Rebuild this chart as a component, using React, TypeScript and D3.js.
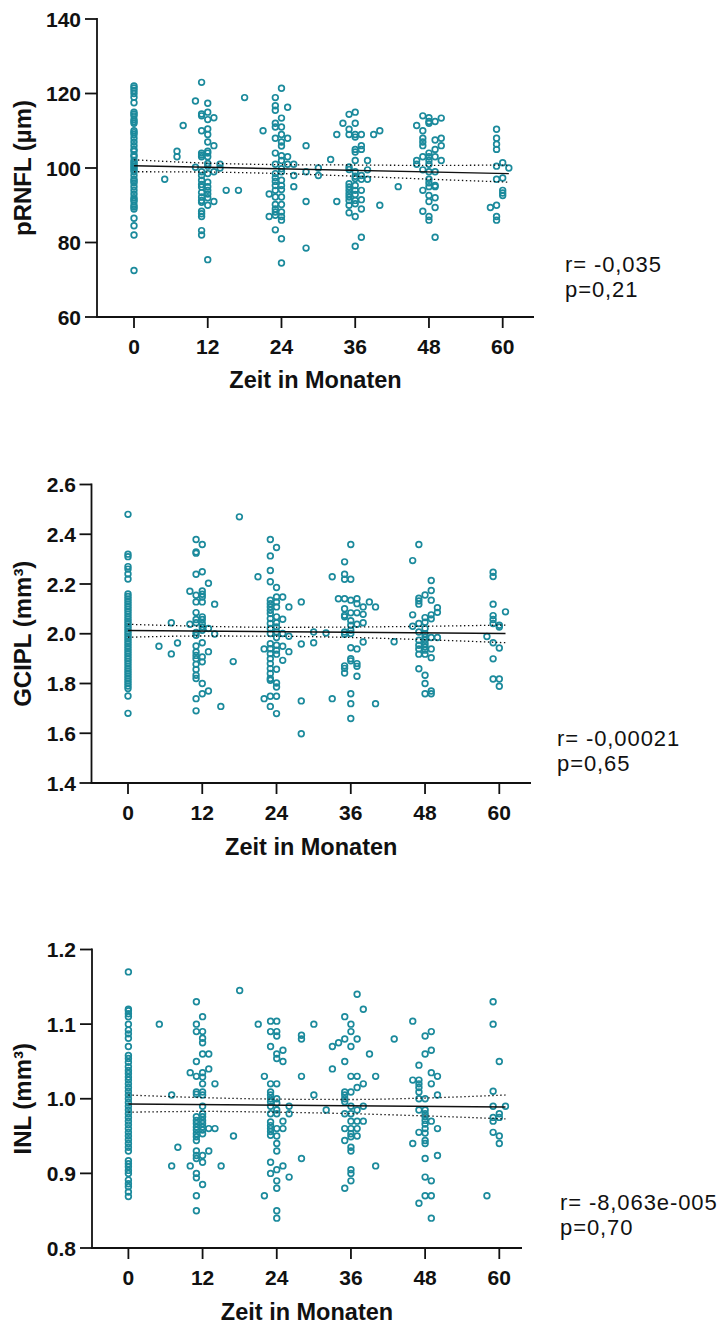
import React from "react";
import * as d3 from "d3";

// [month, values observed at that month]
type Group = [number, number[]];

const MONTH_TICKS = [0, 12, 24, 36, 48, 60];
const PRNFL_TICKS = [60, 80, 100, 120, 140];
const GCIPL_TICKS = [1.4, 1.6, 1.8, 2.0, 2.2, 2.4, 2.6];
const INL_TICKS = [0.8, 0.9, 1.0, 1.1, 1.2];

const pRNFLGroups: Group[] = [
  [0, [122, 121.5, 120.8, 120, 119, 117.5, 115, 114.5, 114, 113, 112.5, 112, 110, 109.5, 109, 108, 107, 106, 105, 104.5, 103.5, 103, 102, 101.5, 101, 100.5, 100, 99.5, 99, 98, 97, 96.5, 96, 95, 94, 93, 92, 91.5, 91, 90, 89.5, 89, 86.5, 84.5, 82, 72.5]],
  [5, [97]],
  [7, [104.5, 103]],
  [8, [111.4]],
  [10, [100.2, 118]],
  [11, [123, 114.5, 114, 110, 104, 103.5, 103, 99, 98, 96.7, 95.6, 94.9, 93.4, 92.2, 91.3, 90.8, 88.4, 87.7, 87, 83.2, 82]],
  [12, [117.4, 115, 113, 110.5, 109, 107, 104.5, 104, 103, 101.2, 100.5, 98.5, 96.2, 95, 94, 93, 92, 90, 75.4]],
  [13, [113.5, 106, 99, 91]],
  [14, [101, 100]],
  [15, [94]],
  [17, [94]],
  [18, [118.9]],
  [21, [110]],
  [22, [93, 87]],
  [23, [118.9, 116.7, 115.5, 112, 111, 108, 104, 101, 98.5, 97.4, 96.4, 95.3, 94, 92.2, 90.2, 89, 88.2, 87.3, 83.4]],
  [24, [121.4, 113.4, 111, 109, 107, 105.9, 103.3, 102, 99.8, 99, 96.7, 95.3, 94.2, 92.2, 90.2, 88.2, 87, 86, 81, 74.5]],
  [25, [116.3, 108, 103, 101]],
  [26, [101, 98, 95]],
  [28, [106, 99, 91, 78.5]],
  [30, [100, 98]],
  [32, [102.3]],
  [33, [109, 91]],
  [34, [112]],
  [35, [114.4, 110.4, 109, 100.3, 99.6, 95.8, 94.9, 94, 93.1, 92.2, 91.3, 90, 88]],
  [36, [115, 112, 109, 108.3, 105, 104.3, 102, 99, 97.8, 97.2, 95.3, 94, 92.9, 91.3, 90.4, 87, 79]],
  [37, [109, 106, 105, 98, 97, 94, 91.5, 89, 81.4]],
  [38, [102, 99.5, 97]],
  [39, [109]],
  [40, [110, 90]],
  [43, [95]],
  [46, [111.4, 102, 101]],
  [47, [114, 110, 108, 107, 106, 103, 99.5, 94, 88.4]],
  [48, [113.5, 112.5, 112, 104, 103, 102, 101, 99, 97, 96, 95, 92.6, 91, 87, 86]],
  [49, [112.5, 107.5, 105, 103, 99, 95.3, 95, 92, 89.4, 81.4]],
  [50, [113.4, 108, 106, 102]],
  [58, [89.4]],
  [59, [110.4, 108, 106.4, 105, 100.5, 97, 90, 87, 86]],
  [60, [101.4, 97.3, 94, 93.3, 92.6]],
  [61, [100]],
];

const gciplGroups: Group[] = [
  [0, [2.48, 2.32, 2.31, 2.27, 2.26, 2.24, 2.22, 2.16, 2.15, 2.14, 2.13, 2.12, 2.11, 2.1, 2.09, 2.08, 2.07, 2.06, 2.05, 2.04, 2.03, 2.02, 2.01, 2.0, 1.99, 1.98, 1.97, 1.96, 1.95, 1.94, 1.93, 1.92, 1.91, 1.9, 1.89, 1.88, 1.87, 1.86, 1.85, 1.84, 1.83, 1.82, 1.81, 1.8, 1.79, 1.78, 1.75, 1.68]],
  [5, [1.95]],
  [7, [2.044, 1.919]],
  [8, [1.963]],
  [10, [2.171, 2.038]],
  [11, [2.379, 2.329, 2.324, 2.239, 2.155, 2.128, 2.085, 2.057, 2.044, 2.005, 1.994, 1.951, 1.927, 1.913, 1.9, 1.877, 1.856, 1.833, 1.82, 1.739, 1.69]],
  [12, [2.359, 2.249, 2.172, 2.159, 2.148, 2.128, 2.068, 2.057, 2.041, 2.027, 2.014, 1.964, 1.907, 1.887, 1.8, 1.759]],
  [13, [2.203, 2.021, 1.928, 1.77]],
  [14, [2.119, 1.999]],
  [15, [1.708]],
  [17, [1.888]],
  [18, [2.47]],
  [21, [2.229]],
  [22, [1.939, 1.739]],
  [23, [2.379, 2.313, 2.254, 2.209, 2.135, 2.121, 2.108, 2.094, 2.081, 2.061, 2.041, 2.021, 2.001, 1.96, 1.94, 1.92, 1.9, 1.88, 1.86, 1.84, 1.82, 1.813, 1.749, 1.708]],
  [24, [2.347, 2.186, 2.148, 2.128, 2.108, 2.068, 2.044, 2.027, 2.007, 1.985, 1.954, 1.934, 1.918, 1.857, 1.802, 1.786, 1.749, 1.679]],
  [25, [2.148, 2.058, 2.001, 1.95, 1.893]],
  [26, [2.108, 1.99, 1.928]],
  [28, [2.128, 1.959, 1.73, 1.598]],
  [30, [2.007, 1.964]],
  [32, [2.003]],
  [33, [2.229, 1.739]],
  [34, [2.141]],
  [35, [2.289, 2.239, 2.219, 2.141, 2.101, 2.074, 2.068, 2.007, 1.998, 1.871, 1.861, 1.842]],
  [36, [2.359, 2.219, 2.135, 2.084, 2.052, 2.034, 2.014, 2.001, 1.944, 1.9, 1.891, 1.759, 1.719, 1.659]],
  [37, [2.141, 2.121, 2.084, 2.038, 1.939, 1.88, 1.869, 1.829]],
  [38, [2.108, 2.078, 2.044, 1.967]],
  [39, [2.128]],
  [40, [2.108, 1.719]],
  [43, [1.968]],
  [46, [2.294, 2.076, 2.03]],
  [47, [2.359, 2.143, 2.132, 2.119, 2.041, 2.007, 1.974, 1.954, 1.939, 1.918, 1.859]],
  [48, [2.156, 2.065, 2.046, 2.021, 2.0, 1.987, 1.974, 1.96, 1.947, 1.934, 1.918, 1.833, 1.8, 1.759]],
  [49, [2.214, 2.174, 2.135, 2.076, 2.06, 1.985, 1.939, 1.904, 1.77, 1.759]],
  [50, [2.105, 2.086, 1.985]],
  [58, [1.989]],
  [59, [2.247, 2.23, 2.119, 2.073, 2.057, 2.041, 1.964, 1.899, 1.818]],
  [60, [2.034, 2.027, 1.943, 1.818, 1.789]],
  [61, [2.088]],
];

const inlGroups: Group[] = [
  [0, [1.17, 1.12, 1.118, 1.114, 1.11, 1.1, 1.092, 1.087, 1.081, 1.07, 1.058, 1.054, 1.049, 1.043, 1.038, 1.034, 1.029, 1.025, 1.02, 1.015, 1.01, 1.005, 1.0, 0.995, 0.99, 0.985, 0.98, 0.975, 0.97, 0.965, 0.96, 0.955, 0.95, 0.945, 0.94, 0.935, 0.93, 0.917, 0.913, 0.909, 0.904, 0.9, 0.891, 0.886, 0.882, 0.875, 0.869]],
  [5, [1.1]],
  [7, [1.005, 0.91]],
  [8, [0.935]],
  [10, [0.91, 1.035]],
  [11, [1.13, 1.1, 1.09, 1.05, 1.03, 1.009, 1.006, 0.976, 0.971, 0.967, 0.962, 0.958, 0.953, 0.949, 0.944, 0.93, 0.924, 0.92, 0.9, 0.894, 0.87, 0.85]],
  [12, [1.11, 1.09, 1.081, 1.075, 1.06, 1.035, 1.029, 1.02, 1.009, 1.005, 0.99, 0.98, 0.976, 0.971, 0.967, 0.962, 0.958, 0.953, 0.924, 0.915, 0.885]],
  [13, [1.06, 1.04, 0.96, 0.93]],
  [14, [1.02, 0.96]],
  [15, [0.91]],
  [17, [0.95]],
  [18, [1.145]],
  [21, [1.1]],
  [22, [1.03, 0.87]],
  [23, [1.104, 1.09, 1.07, 1.02, 1.009, 1.005, 1.0, 0.996, 0.99, 0.98, 0.969, 0.964, 0.96, 0.956, 0.951, 0.915, 0.9]],
  [24, [1.104, 1.09, 1.084, 1.06, 1.054, 1.02, 1.0, 0.994, 0.985, 0.98, 0.96, 0.95, 0.94, 0.93, 0.905, 0.89, 0.88, 0.85, 0.84]],
  [25, [1.065, 1.05, 0.97, 0.96, 0.91]],
  [26, [0.99, 0.98, 0.895]],
  [28, [1.085, 1.08, 1.03, 0.92]],
  [30, [1.1, 1.005]],
  [32, [0.985]],
  [33, [1.07, 1.04]],
  [34, [1.075]],
  [35, [1.11, 1.08, 1.05, 1.009, 1.005, 1.0, 0.996, 0.98, 0.96, 0.944, 0.88]],
  [36, [1.1, 1.09, 1.07, 1.03, 1.009, 0.99, 0.98, 0.97, 0.96, 0.953, 0.949, 0.935, 0.93, 0.905, 0.9, 0.89]],
  [37, [1.14, 1.08, 1.03, 1.015, 0.985, 0.97, 0.96, 0.95]],
  [38, [1.12, 1.02, 0.99, 0.97]],
  [39, [1.06]],
  [40, [1.03, 0.91]],
  [43, [1.08]],
  [46, [1.104, 1.025, 0.94]],
  [47, [1.045, 1.025, 1.02, 1.015, 1.009, 1.0, 0.985, 0.955, 0.86]],
  [48, [1.084, 1.06, 1.0, 0.985, 0.98, 0.976, 0.971, 0.966, 0.96, 0.954, 0.944, 0.94, 0.92, 0.895, 0.87]],
  [49, [1.09, 1.065, 1.035, 1.02, 0.97, 0.89, 0.87, 0.84]],
  [50, [1.03, 1.005, 0.96, 0.924]],
  [58, [0.87]],
  [59, [1.13, 1.1, 1.01, 0.99, 0.975, 0.97, 0.955]],
  [60, [1.05, 0.98, 0.975, 0.95, 0.94]],
  [61, [0.99]],
];

// Linear fit (values at FIT_MONTHS) and its 95% confidence band (values at CI_MONTHS)
const FIT_MONTHS = [0, 61];
const CI_MONTHS = [0, 12, 24, 36, 48, 61];

const pRNFLFit = [100.6, 98.5];
const pRNFLUpper = [102.2, 101.3, 100.9, 100.8, 100.7, 100.8];
const pRNFLLower = [99.0, 98.9, 98.5, 97.8, 97.0, 96.2];

const gciplFit = [2.013, 2.001];
const gciplUpper = [2.038, 2.03, 2.026, 2.027, 2.03, 2.035];
const gciplLower = [1.986, 1.991, 1.99, 1.985, 1.976, 1.964];

const inlFit = [0.993, 0.989];
const inlUpper = [1.005, 1.0015, 0.9995, 0.999, 1.001, 1.005];
const inlLower = [0.982, 0.983, 0.982, 0.98, 0.977, 0.973];

const pRNFLStats = ["r= -0,035", "p=0,21"];
const gciplStats = ["r= -0,00021", "p=0,65"];
const inlStats = ["r= -8,063e-005", "p=0,70"];

const X_TITLE = "Zeit in Monaten";

const FONT = "'Liberation Sans', Arial, Helvetica, sans-serif";
const DOT = "#1b8a9c";
const INK = "#111";

type Frame = {
  left: number;
  right: number;
  top: number;
  bottom: number;
  x0: number;
  x60: number;
  yLabelEnd: number;
  xLabelBase: number;
  xTitleBase: number;
  statsX: number;
  statsY: number;
};

type PanelProps = {
  frame: Frame;
  yTicks: number[];
  yFmt: (v: number) => string;
  yTitle: string;
  groups: Group[];
  fit: number[];
  upper: number[];
  lower: number[];
  stats: string[];
};

function Panel({ frame, yTicks, yFmt, yTitle, groups, fit, upper, lower, stats }: PanelProps) {
  const x = d3.scaleLinear().domain([0, 60]).range([frame.x0, frame.x60]);
  const y = d3
    .scaleLinear()
    .domain([yTicks[0], yTicks[yTicks.length - 1]])
    .range([frame.bottom, frame.top]);

  const points = groups.flatMap(([m, vs]) => vs.map((v) => [m, v] as [number, number]));

  const straight = d3
    .line<[number, number]>()
    .x((d) => x(d[0]))
    .y((d) => y(d[1]));
  const smooth = d3
    .line<[number, number]>()
    .x((d) => x(d[0]))
    .y((d) => y(d[1]))
    .curve(d3.curveMonotoneX);

  const fitPath = straight(FIT_MONTHS.map((m, i) => [m, fit[i]] as [number, number])) || "";
  const upPath = smooth(CI_MONTHS.map((m, i) => [m, upper[i]] as [number, number])) || "";
  const loPath = smooth(CI_MONTHS.map((m, i) => [m, lower[i]] as [number, number])) || "";

  const tickLen = 12;
  const midY = (frame.top + frame.bottom) / 2;
  const midX = (frame.left + frame.right) / 2;

  return (
    <g fontFamily={FONT}>
      {/* points */}
      <g fill="none" stroke={DOT} strokeWidth={1.7}>
        {points.map((p, i) => (
          <circle key={i} cx={x(p[0])} cy={y(p[1])} r={2.85} />
        ))}
      </g>

      {/* fit and confidence band */}
      <path d={fitPath} fill="none" stroke={INK} strokeWidth={1.4} />
      <path d={upPath} fill="none" stroke={INK} strokeWidth={1.3} strokeDasharray="1.4 2.6" />
      <path d={loPath} fill="none" stroke={INK} strokeWidth={1.3} strokeDasharray="1.4 2.6" />

      {/* y axis */}
      <line x1={frame.left} x2={frame.left} y1={frame.top - 1} y2={frame.bottom} stroke={INK} strokeWidth={1.8} />
      {yTicks.map((t) => (
        <g key={t}>
          <line x1={frame.left - tickLen} x2={frame.left} y1={y(t)} y2={y(t)} stroke={INK} strokeWidth={1.8} />
          <text
            x={frame.yLabelEnd}
            y={y(t)}
            dy="0.36em"
            textAnchor="end"
            fontSize={21}
            fontWeight="bold"
            fill={INK}
          >
            {yFmt(t)}
          </text>
        </g>
      ))}

      {/* x axis */}
      <line x1={frame.left - 1} x2={frame.right} y1={frame.bottom} y2={frame.bottom} stroke={INK} strokeWidth={1.8} />
      {MONTH_TICKS.map((t) => (
        <g key={t}>
          <line x1={x(t)} x2={x(t)} y1={frame.bottom} y2={frame.bottom + 11} stroke={INK} strokeWidth={1.8} />
          <text x={x(t)} y={frame.xLabelBase} textAnchor="middle" fontSize={21} fontWeight="bold" fill={INK}>
            {t}
          </text>
        </g>
      ))}

      <text x={midX} y={frame.xTitleBase} textAnchor="middle" fontSize={23.5} fontWeight="bold" fill={INK}>
        {X_TITLE}
      </text>
      <text
        transform={`translate(31,${midY}) rotate(-90)`}
        textAnchor="middle"
        fontSize={24}
        fontWeight="bold"
        fill={INK}
      >
        {yTitle}
      </text>

      {/* correlation statistics */}
      {stats.map((s, i) => (
        <text
          key={s}
          x={frame.statsX}
          y={frame.statsY + i * 25}
          fontSize={22}
          letterSpacing={0.9}
          fill={INK}
        >
          {s}
        </text>
      ))}
    </g>
  );
}

const fmtInt = d3.format("d");
const fmtOne = d3.format(".1f");

export default function App() {
  return (
    <svg
      width={725}
      height={1327}
      viewBox="0 0 725 1327"
      style={{ position: "absolute", left: 0, top: 0, display: "block", background: "#fff" }}
    >
      <rect width={725} height={1327} fill="#fff" />
      <Panel
        frame={{
          left: 97,
          right: 534,
          top: 19,
          bottom: 317,
          x0: 134,
          x60: 502.7,
          yLabelEnd: 81,
          xLabelBase: 354,
          xTitleBase: 388,
          statsX: 565,
          statsY: 272,
        }}
        yTicks={PRNFL_TICKS}
        yFmt={fmtInt}
        yTitle="pRNFL (µm)"
        groups={pRNFLGroups}
        fit={pRNFLFit}
        upper={pRNFLUpper}
        lower={pRNFLLower}
        stats={pRNFLStats}
      />
      <Panel
        frame={{
          left: 91.5,
          right: 531,
          top: 484.5,
          bottom: 783,
          x0: 128,
          x60: 499.3,
          yLabelEnd: 76,
          xLabelBase: 820,
          xTitleBase: 855,
          statsX: 557,
          statsY: 746,
        }}
        yTicks={GCIPL_TICKS}
        yFmt={fmtOne}
        yTitle="GCIPL (mm³)"
        groups={gciplGroups}
        fit={gciplFit}
        upper={gciplUpper}
        lower={gciplLower}
        stats={gciplStats}
      />
      <Panel
        frame={{
          left: 92,
          right: 522,
          top: 949.5,
          bottom: 1248,
          x0: 128.4,
          x60: 499.3,
          yLabelEnd: 76,
          xLabelBase: 1285,
          xTitleBase: 1320,
          statsX: 560,
          statsY: 1210,
        }}
        yTicks={INL_TICKS}
        yFmt={fmtOne}
        yTitle="INL (mm³)"
        groups={inlGroups}
        fit={inlFit}
        upper={inlUpper}
        lower={inlLower}
        stats={inlStats}
      />
    </svg>
  );
}
